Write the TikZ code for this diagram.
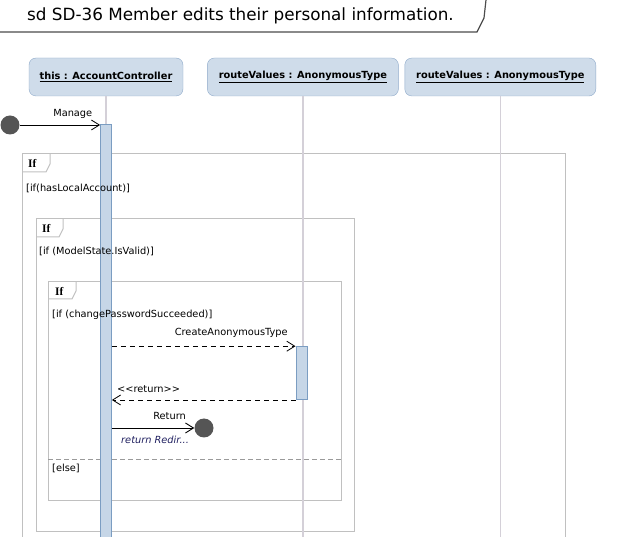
\documentclass[tikz,border=0pt]{standalone}
\usepackage{fontspec}
\setmainfont{DejaVu Sans}
\newfontfamily\tabfont{Liberation Serif}
\usetikzlibrary{arrows.meta, positioning, calc}
\definecolor{headfill}{HTML}{CFDCEA}
\definecolor{headdraw}{HTML}{8FAACA}
\definecolor{barfill}{HTML}{C6D6E7}
\definecolor{bardraw}{HTML}{7B9DC2}
\definecolor{lifegray}{HTML}{D4D0D8}
\definecolor{framegray}{HTML}{C0C0C0}
\definecolor{sepgray}{HTML}{9A9A9A}
\definecolor{dotgray}{HTML}{555555}
\definecolor{retblue}{HTML}{1F1F5F}
\tikzset{
  headbox/.style={rectangle, draw=headdraw, fill=headfill, rounded corners=7pt, minimum height=38pt, inner sep=0pt, font=\fontsize{9.8}{11}\selectfont\bfseries},
  actbar/.style={rectangle, draw=bardraw, fill=barfill, minimum width=11pt, inner sep=0pt, line width=0.8pt},
  lifeline/.style={draw=lifegray, line width=1.6pt},
  framebox/.style={draw=framegray, line width=1pt},
  tablbl/.style={anchor=west, inner sep=0pt, font=\fontsize{11.5}{12}\tabfont\bfseries},
  guard/.style={anchor=west, inner sep=0pt, font=\fontsize{9.8}{11}\selectfont},
  msglbl/.style={inner sep=0pt, font=\fontsize{9.8}{11}\selectfont},
  enddot/.style={circle, fill=dotgray, minimum size=19pt, inner sep=0pt},
  msg/.style={-{Straight Barb[length=8pt, width=10pt]}, line width=0.8pt},
  rmsg/.style={msg, dash pattern=on 5pt off 4pt},
}
\begin{document}
\begin{tikzpicture}[x=1pt, y=-1pt]
  \useasboundingbox (0,0) rectangle (638,537);
  \clip (0,0) rectangle (638,537);

  % Diagram title
  \node[anchor=west, inner sep=0pt, font=\fontsize{16.8}{19}\selectfont] (title) at (27,16) {sd SD-36 Member edits their personal information.};
  \draw[line width=1.2pt, draw=black!70] (0,32) -- (477,32) -- (484,18) -- (486,0);

  % Combined fragments
  \draw[framebox] (22,154) rectangle (565,560);
  \draw[framebox] (22,172) -- (46,172) -- (50,164) -- (50,154);
  \draw[framebox] (36,219) rectangle (354,532);
  \draw[framebox] (36,237) -- (59,237) -- (63,229) -- (63,219);
  \draw[framebox] (48,282) rectangle (341,501);
  \draw[framebox] (48,299) -- (72,299) -- (76,291) -- (76,282);
  \draw[draw=sepgray, dashed, dash pattern=on 5pt off 3pt] (48,459) -- (341,459);

  % Lifelines
  \node[headbox, minimum width=154pt] (ctrl) at (106,77) {\underline{this : AccountController}};
  \node[headbox, minimum width=191pt, right=24pt of ctrl] (route1) {\underline{routeValues : AnonymousType}};
  \node[headbox, minimum width=191pt, right=6pt of route1] (route2) {\underline{routeValues : AnonymousType}};
  \foreach \ll in {ctrl, route1, route2}
    \draw[lifeline] (\ll.south) -- ++(0,460);

  % Activations
  \node[actbar, minimum height=440pt, anchor=north, below=28pt of ctrl] (act1) {};
  \node[actbar, minimum height=53pt, anchor=north] (act2) at ($(route1.south)+(-1.5,250)$) {};

  % Guards
  \node[tablbl] (if1) at (28,163) {If};
  \node[guard] (g1) at (26,188) {[if(hasLocalAccount)]};
  \node[tablbl] (if2) at (42,228) {If};
  \node[guard] (g2) at (39,251) {[if (ModelState.IsValid)]};
  \node[tablbl] (if3) at (55,291) {If};
  \node[guard] (g3) at (52,315) {[if (changePasswordSucceeded)]};
  \node[guard] (g4) at (52,468) {[else]};

  % Messages
  \node[enddot] (start) at (10,125) {};
  \draw[msg] (start) -- (act1.west |- start) node[msglbl, pos=0.66, above=6pt] {Manage};
  \draw[rmsg] (act1.east |- act2.north) -- (act2.north west) node[msglbl, pos=0.65, above=8pt] {CreateAnonymousType};
  \draw[rmsg] (act2.south west) -- (act1.east |- act2.south) node[msglbl, pos=0.8, above=7pt] {{<}{<}return{>}{>}};
  \node[enddot] (stop) at (204,428) {};
  \draw[msg, line width=0.9pt] (act1.east |- stop) -- (stop.west) node[msglbl, pos=0.7, above=8pt] {Return};
  \node[guard, text=retblue, font=\fontsize{9.8}{11}\selectfont\itshape] (retval) at (121,440) {return Redir...};
\end{tikzpicture}
\end{document}
